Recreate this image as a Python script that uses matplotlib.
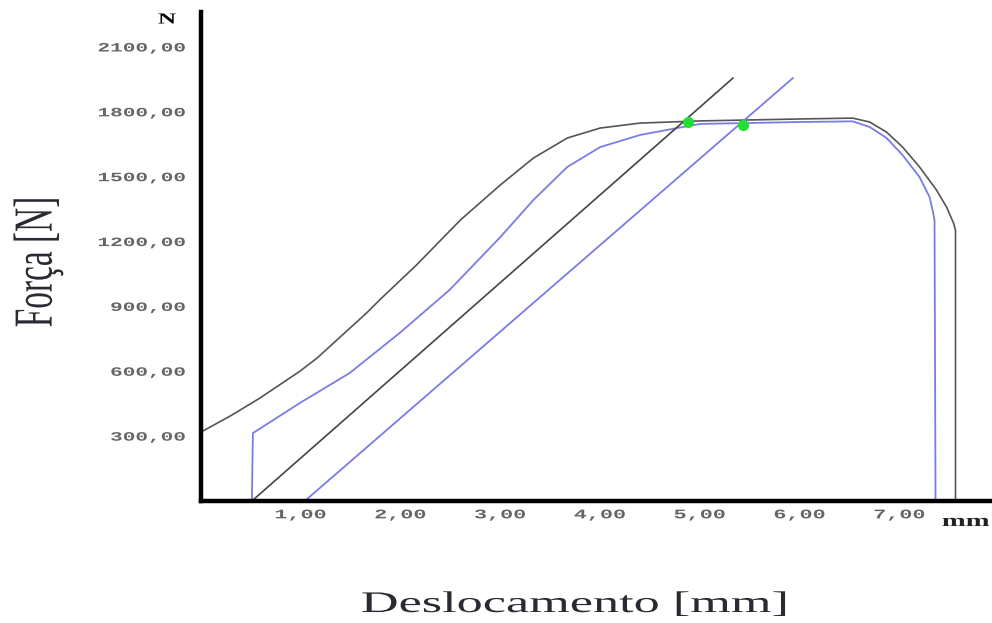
import matplotlib
matplotlib.use("Agg")
import matplotlib.pyplot as plt
from matplotlib import patheffects
from matplotlib.transforms import Affine2D

# curva externa (preta) - deslocamento [mm], forca [N]
x_ext = [0.0, 0.3, 0.59, 0.99, 1.16, 1.66, 1.79, 2.16, 2.60, 3.00, 3.33, 3.67, 4.00, 4.40,
         5.0, 6.0, 6.53, 6.70, 6.87, 7.03, 7.20, 7.37, 7.47, 7.54, 7.56, 7.56]
f_ext = [319, 395, 476, 600, 660, 870, 930, 1092, 1300, 1462, 1586, 1679, 1725, 1748,
         1758, 1767, 1771, 1753, 1706, 1637, 1545, 1438, 1360, 1286, 1253, 0]

# curva interna (azul)
x_int = [0.51, 0.52, 0.99, 1.49, 1.99, 2.49, 3.00, 3.33, 3.67, 4.00, 4.40, 4.77, 5.0,
         6.0, 6.53, 6.70, 6.87, 7.03, 7.20, 7.30, 7.33, 7.35, 7.36]
f_int = [0, 314, 453, 592, 777, 976, 1221, 1392, 1545, 1637, 1693, 1725, 1744,
         1753, 1756, 1730, 1679, 1600, 1498, 1406, 1346, 1300, 0]

# retas paralelas (offset)
x_reta1 = [0.51, 5.33]
f_reta1 = [0, 1956]
x_reta2 = [1.04, 5.93]
f_reta2 = [0, 1956]

# pontos de escoamento
x_pts = [4.88, 5.43]
f_pts = [1753, 1739]

xticks = [1, 2, 3, 4, 5, 6, 7]
yticks = [300, 600, 900, 1200, 1500, 1800, 2100]

STRETCH = 1.65


class Esticar(patheffects.AbstractPathEffect):
    # estica o texto na horizontal em torno de x0 (pixels)
    def __init__(self, sx, x0):
        super().__init__()
        self.sx = sx
        self.x0 = x0

    def draw_path(self, renderer, gc, tpath, affine, rgbFace=None):
        t = affine + Affine2D().translate(-self.x0, 0).scale(self.sx, 1).translate(self.x0, 0)
        renderer.draw_path(gc, tpath, t, rgbFace)


fig = plt.figure(figsize=(9.92, 6.23), dpi=100)
ax = fig.add_axes([201 / 992, 1 - 501 / 623, 791 / 992, 489 / 623])

ax.plot(x_ext, f_ext, color="#555555", lw=1.2)
ax.plot(x_int, f_int, color="#7b7be8", lw=1.3)
ax.plot(x_reta1, f_reta1, color="#444444", lw=1.2)
ax.plot(x_reta2, f_reta2, color="#7b7be8", lw=1.3)
ax.plot(x_pts, f_pts, "o", color="#22e033", ms=7, zorder=5)

ax.set_xlim(0, 791 / 99.8)
ax.set_ylim(0, 489 / 0.2162)

for s in ["top", "right"]:
    ax.spines[s].set_visible(False)
for s in ["left", "bottom"]:
    ax.spines[s].set_linewidth(3.2)
    ax.spines[s].set_color("black")

ax.set_xticks(xticks)
ax.set_xticklabels([("%.2f" % v).replace(".", ",") for v in xticks])
ax.set_yticks(yticks)
ax.set_yticklabels([("%.2f" % v).replace(".", ",") for v in yticks])
ax.tick_params(axis="both", length=0, colors="#666666")
ax.tick_params(axis="y", pad=11)
ax.tick_params(axis="x", pad=6)

for lab in ax.get_yticklabels():
    lab.set_fontfamily("Liberation Mono")
    lab.set_fontweight("bold")
    lab.set_fontsize(9.2)
    lab.set_path_effects([Esticar(STRETCH, 186)])
for t, lab in zip(xticks, ax.get_xticklabels()):
    lab.set_fontfamily("Liberation Mono")
    lab.set_fontweight("bold")
    lab.set_fontsize(9.5)
    x0 = ax.transData.transform((t, 0))[0]
    lab.set_path_effects([Esticar(STRETCH, x0)])

# unidades nos eixos
fig.text(167 / 992, 1 - 20 / 623, "N", family="Liberation Serif", weight="bold",
         fontsize=11, ha="center", va="center",
         path_effects=[Esticar(STRETCH, 167)])
fig.text(966 / 992, 1 - 522 / 623, "mm", family="Liberation Serif", weight="bold",
         fontsize=12.5, ha="center", va="center", color="#222222",
         path_effects=[Esticar(STRETCH, 966)])

# titulos dos eixos
fig.text(575 / 992, 1 - 612 / 623, "Deslocamento [mm]", family="Liberation Serif",
         fontsize=21.5, ha="center", va="baseline", color="#2a2a33",
         path_effects=[Esticar(1.75, 575)])
fig.text(38 / 992, 1 - 262 / 623, "Força [N]", family="Liberation Serif",
         fontsize=24, rotation=90, ha="center", va="center", color="#2a2a33",
         path_effects=[Esticar(STRETCH, 38)])

fig.savefig("out.png", dpi=100)
